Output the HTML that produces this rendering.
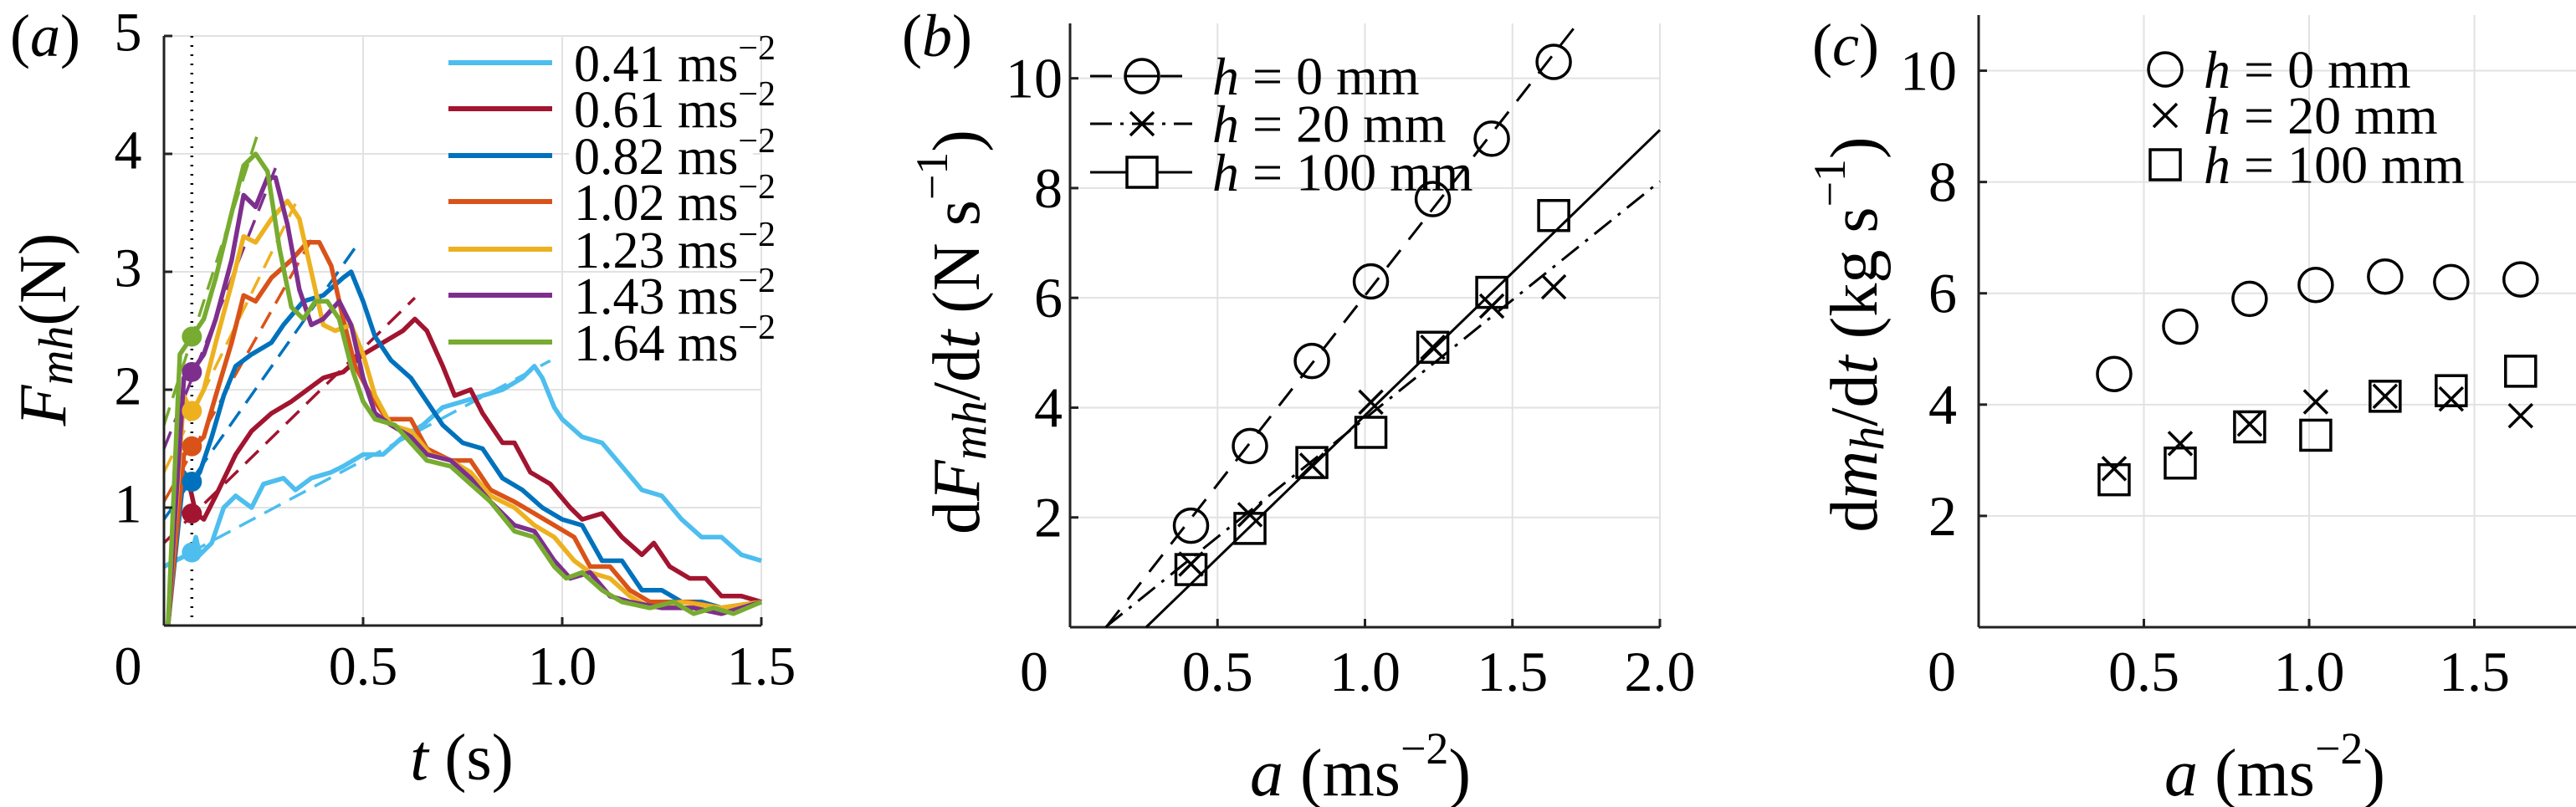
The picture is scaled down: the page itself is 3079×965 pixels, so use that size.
<!DOCTYPE html>
<html><head><meta charset="utf-8"><style>
html,body{margin:0;padding:0;background:#fff;}
svg{display:block;font-family:"Liberation Serif",serif;}
</style></head><body>
<svg id="fig" width="3079" height="965" viewBox="0 0 3079 965" xmlns="http://www.w3.org/2000/svg"></svg>
<script>
// ---- Panel (a) data ----
const aLabels = ["0.41","0.61","0.82","1.02","1.23","1.43","1.64"];
const aColors = ["#4DBEEE","#A2142F","#0072BD","#D95319","#EDB120","#7E2F8E","#77AC30"];
const sT0 = [0.00,0.07,0.08,0.09,0.12,0.15,0.18,0.22,0.25,0.30,0.33,0.37,0.42,0.45,0.50,0.55,0.60,0.65,0.70,0.75,0.80,0.85,0.90,0.93,0.95,0.98,1.00,1.05,1.10,1.15,1.20,1.25,1.30,1.35,1.40,1.45,1.50];
const sF0 = [0.50,0.62,0.75,0.60,0.70,1.00,1.10,1.00,1.20,1.25,1.15,1.25,1.30,1.35,1.45,1.45,1.60,1.70,1.85,1.90,1.95,2.00,2.10,2.20,2.10,1.85,1.75,1.60,1.55,1.35,1.15,1.10,0.90,0.75,0.75,0.60,0.55];
const sT1 = [0.01,0.04,0.06,0.08,0.10,0.13,0.18,0.22,0.27,0.32,0.36,0.40,0.45,0.50,0.55,0.60,0.63,0.66,0.70,0.73,0.77,0.80,0.85,0.88,0.92,0.97,1.02,1.05,1.10,1.15,1.20,1.23,1.27,1.32,1.36,1.40,1.45,1.50];
const sF1 = [0.00,1.20,1.25,0.95,0.90,1.10,1.45,1.65,1.80,1.90,2.00,2.10,2.15,2.30,2.40,2.50,2.60,2.50,2.20,1.95,2.00,1.80,1.55,1.55,1.30,1.20,1.00,0.90,0.95,0.75,0.60,0.70,0.50,0.40,0.40,0.25,0.25,0.20];
const sT2 = [0.01,0.05,0.07,0.09,0.12,0.15,0.18,0.22,0.27,0.30,0.35,0.40,0.45,0.47,0.50,0.53,0.57,0.62,0.66,0.70,0.75,0.80,0.85,0.90,0.95,1.00,1.05,1.10,1.15,1.20,1.25,1.30,1.35,1.40,1.50];
const sF2 = [0.00,1.30,1.20,1.30,1.60,1.95,2.20,2.30,2.40,2.55,2.75,2.80,2.95,3.00,2.75,2.45,2.25,2.10,1.90,1.70,1.55,1.50,1.25,1.15,1.00,0.90,0.85,0.55,0.55,0.30,0.30,0.20,0.20,0.15,0.20];
const sT3 = [0.01,0.05,0.07,0.10,0.13,0.17,0.20,0.23,0.27,0.32,0.36,0.39,0.42,0.45,0.48,0.52,0.56,0.62,0.66,0.72,0.77,0.82,0.88,0.93,0.98,1.03,1.07,1.12,1.17,1.22,1.27,1.32,1.40,1.50];
const sF3 = [0.00,1.45,1.50,1.60,1.95,2.40,2.80,2.75,2.95,3.10,3.25,3.25,3.05,2.60,2.20,1.95,1.75,1.75,1.50,1.40,1.40,1.15,1.05,0.95,0.85,0.75,0.50,0.50,0.30,0.20,0.20,0.20,0.15,0.20];
const sT4 = [0.01,0.05,0.07,0.10,0.13,0.17,0.20,0.23,0.27,0.31,0.34,0.37,0.40,0.43,0.47,0.50,0.53,0.57,0.62,0.67,0.72,0.77,0.82,0.88,0.93,0.98,1.03,1.07,1.12,1.17,1.22,1.30,1.40,1.50];
const sF4 = [0.00,1.95,1.80,2.00,2.40,2.90,3.30,3.25,3.45,3.60,3.45,3.00,2.55,2.50,2.55,2.30,1.95,1.70,1.65,1.45,1.40,1.30,1.10,1.00,0.85,0.75,0.55,0.45,0.40,0.25,0.15,0.20,0.15,0.20];
const sT5 = [0.01,0.05,0.07,0.10,0.13,0.17,0.20,0.23,0.26,0.28,0.31,0.34,0.37,0.40,0.44,0.47,0.50,0.53,0.57,0.62,0.66,0.72,0.77,0.82,0.88,0.93,0.98,1.02,1.07,1.12,1.17,1.25,1.33,1.40,1.50];
const sF5 = [0.00,2.10,2.15,2.30,2.60,3.10,3.65,3.55,3.80,3.80,3.40,2.85,2.55,2.60,2.75,2.55,2.10,1.80,1.70,1.60,1.45,1.40,1.25,1.05,0.85,0.80,0.55,0.40,0.45,0.25,0.20,0.15,0.15,0.10,0.20];
const sT6 = [0.01,0.04,0.07,0.10,0.13,0.17,0.20,0.23,0.26,0.29,0.32,0.35,0.38,0.41,0.44,0.47,0.50,0.53,0.58,0.62,0.66,0.72,0.77,0.82,0.88,0.93,0.98,1.01,1.05,1.10,1.15,1.22,1.28,1.33,1.38,1.43,1.50];
const sF6 = [0.00,2.30,2.45,2.60,2.95,3.50,3.90,4.00,3.85,3.20,2.70,2.60,2.75,2.75,2.60,2.20,1.90,1.75,1.70,1.55,1.40,1.35,1.20,1.05,0.80,0.75,0.50,0.40,0.45,0.30,0.20,0.15,0.20,0.10,0.15,0.10,0.20];
const aSeriesT = [sT0,sT1,sT2,sT3,sT4,sT5,sT6];
const aSeriesF = [sF0,sF1,sF2,sF3,sF4,sF5,sF6];
const fitIntercept = [0.50,0.70,0.90,1.05,1.30,1.50,1.70];
const fitSlope = [1.80,3.30,4.80,6.00,6.90,8.50,10.50];
const fitEnd = [0.97,0.63,0.48,0.37,0.33,0.28,0.24];
const markT = 0.07;
const markF = [0.62,0.95,1.22,1.52,1.82,2.15,2.45];
const aXTicks = [0.5,1.0,1.5];
const aXTickLabels = ["0.5","1.0","1.5"];
const aYTicks = [1,2,3,4,5];

// ---- Panels (b),(c) data ----
const accel = [0.41,0.61,0.82,1.02,1.23,1.43,1.64];
const bCircle = [1.85,3.30,4.85,6.30,7.80,8.90,10.30];
const bCross = [1.15,2.05,2.95,4.10,5.10,5.85,6.20];
const bSquare = [1.05,1.80,3.00,3.55,5.10,6.10,7.50];
const bFitSlope = [6.88,4.32,5.20];
const bFitX0 = [0.122,0.12,0.258];
const cCircle = [4.55,5.40,5.90,6.15,6.30,6.20,6.25];
const cCross = [2.85,3.30,3.65,4.05,4.15,4.10,3.80];
const cSquare = [2.65,2.95,3.60,3.45,4.15,4.25,4.60];
const bcXTicks = [0.5,1.0,1.5,2.0];
const bcXTickLabels = ["0.5","1.0","1.5","2.0"];
const bcYTicks = [2,4,6,8,10];

const NS="http://www.w3.org/2000/svg";
const svg=document.getElementById('fig');
function mk(tag,attrs,parent){const e=document.createElementNS(NS,tag);for(const k in attrs)e.setAttribute(k,attrs[k]);(parent||svg).appendChild(e);return e;}
function txt(s,x,y,size,anchor,parent,style){const t=mk('text',{x:x,y:y,'font-size':size,'text-anchor':anchor||'middle','dominant-baseline':'central'},parent);if(style)t.setAttribute('font-style',style);t.textContent=s;return t;}

// ===== Panel A =====
const A={x0:196,x1:910,y0:748,y1:43,tmax:1.5,fmax:5};
const ax=t=>A.x0+(A.x1-A.x0)*t/A.tmax;
const ay=f=>A.y0-(A.y0-A.y1)*f/A.fmax;
const gA=mk('g',{});


aXTicks.forEach(v=>{const l=mk('line',{x1:ax(v),x2:ax(v),y1:A.y1,y2:A.y0,stroke:'#e2e2e2','stroke-width':2},gA);});
aYTicks.forEach(v=>{const l=mk('line',{x1:A.x0,x2:A.x1,y1:ay(v),y2:ay(v),stroke:'#e2e2e2','stroke-width':2},gA);});
// dotted line
{const l=mk('line',{x1:ax(markT),x2:ax(markT),y1:A.y1,y2:A.y0,stroke:'#000','stroke-width':3.5,'stroke-dasharray':'2 9'},gA);}
// fits
for(let i=0;i<7;i++){
  const l=mk('line',{x1:ax(0),y1:ay(fitIntercept[i]),x2:ax(fitEnd[i]),y2:ay(fitIntercept[i]+fitSlope[i]*fitEnd[i]),stroke:aColors[i],'stroke-width':3.5,'stroke-dasharray':'22 12'},gA);
  
  
}
// curves
for(let i=0;i<7;i++){
  const pts=aSeriesT[i].map((t,j)=>ax(t).toFixed(1)+','+ay(aSeriesF[i][j]).toFixed(1)).join(' ');
  const p=mk('polyline',{points:pts,fill:'none',stroke:aColors[i],'stroke-width':5.5,'stroke-linejoin':'round'},gA);
  
  
}
for(let i=0;i<7;i++){
  const c=mk('circle',{cx:ax(markT),cy:ay(markF[i]),r:12,fill:aColors[i]},gA);
  
  
}
// axes
mk('line',{x1:A.x0,x2:A.x1,y1:A.y0,y2:A.y0,stroke:'#222','stroke-width':3},gA);
mk('line',{x1:A.x0,x2:A.x0,y1:A.y1,y2:A.y0,stroke:'#222','stroke-width':3},gA);
aXTicks.forEach(v=>mk('line',{x1:ax(v),x2:ax(v),y1:A.y0,y2:A.y0-10,stroke:'#222','stroke-width':3},gA));
aYTicks.forEach(v=>mk('line',{x1:A.x0,x2:A.x0+10,y1:ay(v),y2:ay(v),stroke:'#222','stroke-width':3},gA));
aXTicks.forEach((v,i)=>{const t=txt(aXTickLabels[i],ax(v),797,66,'middle',gA);});
{const t=txt('0',153,797,66,'middle',gA);}
aYTicks.forEach(v=>{const t=txt(String(v),153,ay(v)-4,66,'middle',gA);});
{const t=mk('text',{x:552,y:905,'font-size':78,'text-anchor':'middle','dominant-baseline':'central'},gA);t.innerHTML='<tspan font-style="italic">t</tspan> (s)';}
{const t=mk('text',{x:0,y:0,'font-size':80,'text-anchor':'middle','dominant-baseline':'central',transform:'translate(52,394) rotate(-90)'},gA);t.innerHTML='<tspan font-style="italic">F</tspan><tspan font-style="italic" font-size="58" dy="14">mh</tspan><tspan dy="-14">(N)</tspan>';}
{const t=mk('text',{x:54,y:43,'font-size':72,'text-anchor':'middle','dominant-baseline':'central'},gA);t.innerHTML='(<tspan font-style="italic">a</tspan>)';}
const legRows=[75,130,186,241,298,353,409];
for(let i=0;i<7;i++){
  const g=mk('g',{},gA);
  
  
  mk('rect',{x:680,y:legRows[i]-24,width:220,height:46,fill:'#fff'},g);
  mk('line',{x1:536,x2:660,y1:legRows[i],y2:legRows[i],stroke:aColors[i],'stroke-width':6},g);
  const t=mk('text',{x:686,y:legRows[i]+22,'font-size':62},g);
  t.innerHTML=aLabels[i]+' ms<tspan font-size="42" dy="-26">−2</tspan>';
}

// ===== Panels B & C helpers =====
function panel(P,name){
  const g=mk('g',{});
  
  
  const X=v=>P.x0+P.pxPerUnit*v, Y=v=>P.y0-(P.y0-P.y1)*v/11;
  bcXTicks.forEach(v=>{if(X(v)<=3079){const l=mk('line',{x1:X(v),x2:X(v),y1:P.y1,y2:P.y0,stroke:'#e2e2e2','stroke-width':2},g);}});
  bcYTicks.forEach(v=>{const l=mk('line',{x1:P.x0,x2:P.xr,y1:Y(v),y2:Y(v),stroke:'#e2e2e2','stroke-width':2},g);});
  mk('line',{x1:P.x0,x2:P.xr,y1:P.y0,y2:P.y0,stroke:'#222','stroke-width':3},g);
  mk('line',{x1:P.x0,x2:P.x0,y1:P.y1,y2:P.y0,stroke:'#222','stroke-width':3},g);
  bcXTicks.forEach((v,i)=>{if(X(v)<=3079){mk('line',{x1:X(v),x2:X(v),y1:P.y0,y2:P.y0-10,stroke:'#222','stroke-width':3},g);const t=txt(bcXTickLabels[i],X(v),803,68,'middle',g);}});
  bcYTicks.forEach(v=>{mk('line',{x1:P.x0,x2:P.x0+10,y1:Y(v),y2:Y(v),stroke:'#222','stroke-width':3},g);const t=txt(String(v),P.yLabX,Y(v),68,'end',g);});
  const o=txt('0',P.zeroX,803,68,'middle',g);
  return {g,X,Y};
}
function circ(g,x,y,nm){const c=mk('circle',{cx:x,cy:y,r:20,fill:'none',stroke:'#000','stroke-width':3.5},g);return c;}
function cross(g,x,y,nm){const p=mk('path',{d:`M${x-14},${y-14}L${x+14},${y+14}M${x-14},${y+14}L${x+14},${y-14}`,stroke:'#000','stroke-width':3.5,fill:'none'},g);return p;}
function sq(g,x,y,nm){const r=mk('rect',{x:x-18,y:y-18,width:36,height:36,fill:'none',stroke:'#000','stroke-width':3.5},g);return r;}

// ===== Panel B =====
const B={x0:1279,xr:1984,pxPerUnit:352.5,y0:750,y1:28,yLabX:1270,zeroX:1236};
const pb=panel(B,'panel-b');
const dashes=['26 16','26 10 4 10',''];
for(let k=0;k<3;k++){
  const x0=bFitX0[k], x1=Math.min(2.0,x0+11/bFitSlope[k]);
  const l=mk('line',{x1:pb.X(x0),y1:pb.Y(0),x2:pb.X(x1),y2:pb.Y(bFitSlope[k]*(x1-x0)),stroke:'#000','stroke-width':3},pb.g);
  if(dashes[k])l.setAttribute('stroke-dasharray',dashes[k]);
  
  
}
accel.forEach((a,i)=>{circ(pb.g,pb.X(a),pb.Y(bCircle[i]),'point-h0');cross(pb.g,pb.X(a),pb.Y(bCross[i]),'point-h20');sq(pb.g,pb.X(a),pb.Y(bSquare[i]),'point-h100');});
const bLeg=[{y:91,m:'c',d:dashes[0],t:'0'},{y:148,m:'x',d:dashes[1],t:'20'},{y:206,m:'s',d:'',t:'100'}];
bLeg.forEach(e=>{
  const g=mk('g',{},pb.g);
  
  
  const l=mk('line',{x1:1303,x2:1425,y1:e.y,y2:e.y,stroke:'#000','stroke-width':3},g);
  if(e.d)l.setAttribute('stroke-dasharray',e.d);
  if(e.m==='c'){mk('circle',{cx:1365,cy:e.y,r:20,fill:'#fff',stroke:'#000','stroke-width':3.5},g);mk('line',{x1:1345,x2:1385,y1:e.y,y2:e.y,stroke:'#000','stroke-width':3},g);}
  if(e.m==='x')mk('path',{d:`M1351,${e.y-14}L1379,${e.y+14}M1351,${e.y+14}L1379,${e.y-14}`,stroke:'#000','stroke-width':3.5},g);
  if(e.m==='s')mk('rect',{x:1347,y:e.y-18,width:36,height:36,fill:'#fff',stroke:'#000','stroke-width':3.5},g);
  const t=mk('text',{x:1449,y:e.y,'font-size':64,'dominant-baseline':'central'},g);
  t.innerHTML='<tspan font-style="italic">h</tspan> = '+e.t+' mm';
});
{const t=mk('text',{x:0,y:0,'font-size':80,'text-anchor':'middle','dominant-baseline':'central',transform:'translate(1144,397) rotate(-90)'},pb.g);t.innerHTML='d<tspan font-style="italic">F</tspan><tspan font-style="italic" font-size="58" dy="14">mh</tspan><tspan dy="-14">/d</tspan><tspan font-style="italic">t</tspan> (N s<tspan font-size="54" dy="-30">−1</tspan><tspan dy="30">)</tspan>';}
{const t=mk('text',{x:1626,y:925,'font-size':80,'text-anchor':'middle','dominant-baseline':'central'},pb.g);t.innerHTML='<tspan font-style="italic">a</tspan> (ms<tspan font-size="54" dy="-30">−2</tspan><tspan dy="30">)</tspan>';}
{const t=mk('text',{x:1120,y:43,'font-size':72,'text-anchor':'middle','dominant-baseline':'central'},pb.g);t.innerHTML='(<tspan font-style="italic">b</tspan>)';}

// ===== Panel C =====
const C={x0:2365,xr:3079,pxPerUnit:395,y0:750,y1:18,yLabX:2339,zeroX:2321};
const pc=panel(C,'panel-c');
accel.forEach((a,i)=>{circ(pc.g,pc.X(a),pc.Y(cCircle[i]),'point-h0');cross(pc.g,pc.X(a),pc.Y(cCross[i]),'point-h20');sq(pc.g,pc.X(a),pc.Y(cSquare[i]),'point-h100');});
const cLeg=[{y:83,m:'c',t:'0'},{y:138,m:'x',t:'20'},{y:197,m:'s',t:'100'}];
cLeg.forEach(e=>{
  const g=mk('g',{},pc.g);
  
  
  if(e.m==='c')mk('circle',{cx:2588,cy:e.y,r:20,fill:'none',stroke:'#000','stroke-width':3.5},g);
  if(e.m==='x')mk('path',{d:`M2574,${e.y-14}L2602,${e.y+14}M2574,${e.y+14}L2602,${e.y-14}`,stroke:'#000','stroke-width':3.5},g);
  if(e.m==='s')mk('rect',{x:2570,y:e.y-18,width:36,height:36,fill:'none',stroke:'#000','stroke-width':3.5},g);
  const t=mk('text',{x:2634,y:e.y,'font-size':64,'dominant-baseline':'central'},g);
  t.innerHTML='<tspan font-style="italic">h</tspan> = '+e.t+' mm';
});
{const t=mk('text',{x:0,y:0,'font-size':80,'text-anchor':'middle','dominant-baseline':'central',transform:'translate(2217,400) rotate(-90)'},pc.g);t.innerHTML='d<tspan font-style="italic">m</tspan><tspan font-style="italic" font-size="58" dy="14">h</tspan><tspan dy="-14">/d</tspan><tspan font-style="italic">t</tspan> (kg s<tspan font-size="54" dy="-30">−1</tspan><tspan dy="30">)</tspan>';}
{const t=mk('text',{x:2719,y:925,'font-size':80,'text-anchor':'middle','dominant-baseline':'central'},pc.g);t.innerHTML='<tspan font-style="italic">a</tspan> (ms<tspan font-size="54" dy="-30">−2</tspan><tspan dy="30">)</tspan>';}
{const t=mk('text',{x:2206,y:54,'font-size':72,'text-anchor':'middle','dominant-baseline':'central'},pc.g);t.innerHTML='(<tspan font-style="italic">c</tspan>)';}
</script>
</body></html>
